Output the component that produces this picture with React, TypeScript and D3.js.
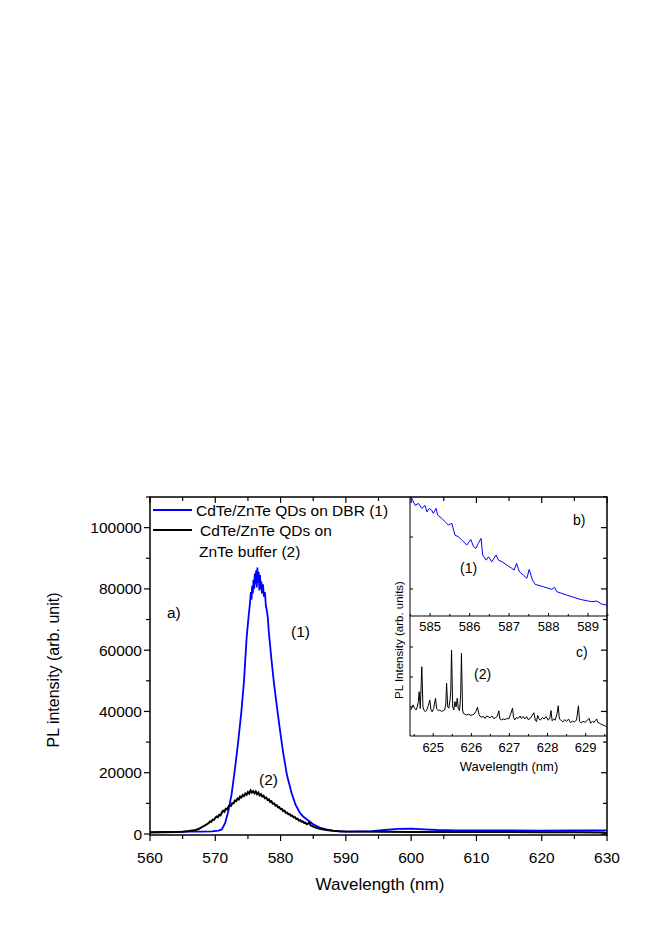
import React from 'react';
import * as d3 from 'd3';

const FONT = "'Liberation Sans', Arial, Helvetica, sans-serif";

// main panel a): CdTe/ZnTe QDs on DBR (1)
const dbrWl = [560, 562, 564, 566, 568, 569.5, 570.5, 571, 571.5, 572, 572.5, 573, 573.5, 574, 574.4, 574.8, 575.1,
  575.3, 575.45, 575.55, 575.65, 575.75, 575.85, 575.95, 576.05, 576.15, 576.25, 576.35, 576.45, 576.55, 576.65,
  576.75, 576.85, 576.95, 577.05, 577.15, 577.3, 577.45, 577.6, 577.75, 577.9, 578.05, 578.2, 578.6, 579, 579.5,
  580, 580.4, 581, 581.7, 582.3, 583, 583.5, 584, 585, 586, 587, 588, 589, 590, 592, 594, 596, 598, 600, 602, 604,
  607, 610, 615, 620, 625, 630];
const dbrPl = [600, 650, 700, 750, 800, 850, 1100, 1500, 3500, 7500, 13000, 21000, 30000, 40000, 50000, 64000, 71000,
  75000, 79000, 76500, 81000, 78500, 83000, 80000, 85000, 81500, 86000, 80500, 87000, 82000, 85500,
  79500, 84500, 80000, 82500, 78500, 81500, 77500, 79000, 74500, 73000, 70500, 66000, 57000, 49000, 40500,
  32500, 26500, 19000, 13300, 9500, 6800, 5600, 4800, 3200, 2100, 1500, 1100, 900, 800, 850, 950, 1300, 1700, 1750,
  1500, 1300, 1200, 1150, 1150, 1100, 1150, 1200];

// main panel a): CdTe/ZnTe QDs on ZnTe buffer (2)
const bufWl = [560, 562, 564, 565, 566, 567, 567.5, 568, 568.5,
  569.0, 569.2, 569.4, 569.6, 569.8, 570.0, 570.2, 570.4, 570.6, 570.8, 571.0, 571.2, 571.4, 571.6, 571.8,
  572.0, 572.2, 572.4, 572.6, 572.8, 573.0, 573.2, 573.4, 573.6, 573.8, 574.0, 574.2, 574.4, 574.6, 574.8,
  575.0, 575.2, 575.4, 575.6, 575.8, 576.0, 576.2, 576.4, 576.6, 576.8, 577.0, 577.2, 577.4, 577.6, 577.8,
  578.0, 578.2, 578.4, 578.6, 578.8, 579.0, 579.2, 579.4, 579.6, 579.8, 580.0, 580.2, 580.4, 580.6, 580.8,
  581.0, 581.2, 581.4, 581.6, 581.8, 582.0, 582.2, 582.4, 582.6, 582.8, 583.0, 583.2, 583.4, 583.6, 583.8,
  584.0, 584.2, 584.4, 584.6, 584.8, 585.0, 585.5, 586, 587, 588, 589, 590, 595, 600, 605, 610, 615, 620,
  625, 629.5, 630];
const bufPl = [500, 550, 650, 750, 950, 1300, 1700, 2300, 2900,
  3600, 4100, 4000, 4700, 4600, 5300, 5700, 5500, 6300, 6100, 7000, 7600, 7300, 8200, 8000,
  8900, 9400, 9200, 10100, 10000, 10900, 10700, 11600, 11300, 12200, 11900, 12700, 12400, 13200, 12800,
  13700, 13200, 14200, 13500, 14000, 13300, 13900, 13000, 13500, 12600, 13000, 12200, 12500, 11700, 11900,
  11100, 11300, 10500, 10700, 9900, 10000, 9300, 9400, 8700, 8800, 8100, 8200, 7500, 7600, 6900,
  7000, 6400, 6500, 5900, 6000, 5400, 5500, 4900, 5000, 4400, 4500, 4000, 4100, 3600, 3700,
  3200, 3400, 3900, 2800, 2700, 2400, 2000, 1700, 1300, 1050, 900, 800, 700, 650, 650, 650, 650, 600,
  550, 500, 200];

// inset b): DBR sample, 584.5 - 589.5 nm
const insetBWl = [584.52, 584.62, 584.7, 584.79, 584.87, 584.92, 584.98, 585.04, 585.08, 585.15, 585.19, 585.3, 585.38,
  585.46, 585.55, 585.63, 585.72, 585.8, 585.93, 586.03, 586.1, 586.16, 586.22, 586.29, 586.33, 586.42, 586.48,
  586.56, 586.67, 586.73, 586.82, 586.94, 587.07, 587.13, 587.19, 587.26, 587.36, 587.45, 587.51, 587.59, 587.66,
  587.87, 588.08, 588.15, 588.21, 588.46, 588.8, 589.09, 589.22, 589.35, 589.47];
const insetBPl = [2768, 2608, 2647, 2551, 2608, 2484, 2551, 2516, 2455, 2551, 2422, 2356, 2292,
  2230, 2262, 2036, 2004, 1942, 1846, 1953, 1812, 1782, 1878, 1974, 1654, 1555, 1619,
  1523, 1654, 1555, 1523, 1462, 1397, 1365, 1494, 1331, 1269, 1205, 1377, 1173, 1089,
  1043, 993, 1031, 947, 883, 800, 755, 768, 709, 690];

// inset c): buffer sample, 624.4 - 629.5 nm
const insetCWl = [624.41, 624.44, 624.47, 624.51, 624.55, 624.58, 624.61, 624.63, 624.66, 624.7, 624.73, 624.76, 624.8,
  624.83, 624.87, 624.91, 624.94, 624.97, 625.01, 625.06, 625.09, 625.13, 625.17, 625.22, 625.26, 625.3, 625.33,
  625.35, 625.38, 625.41, 625.44, 625.46, 625.48, 625.51, 625.54, 625.57, 625.6, 625.63, 625.66, 625.69, 625.72,
  625.74, 625.77, 625.79, 625.83, 625.88, 625.93, 625.98, 626.03, 626.07, 626.12, 626.16, 626.2, 626.23, 626.28,
  626.32, 626.36, 626.4, 626.44, 626.49, 626.54, 626.58, 626.63, 626.68, 626.72, 626.75, 626.79, 626.84, 626.89,
  626.94, 626.98, 627.03, 627.08, 627.11, 627.14, 627.18, 627.23, 627.28, 627.31, 627.36, 627.4, 627.45, 627.49,
  627.54, 627.6, 627.64, 627.68, 627.71, 627.74, 627.77, 627.81, 627.86, 627.91, 627.96, 628.02, 628.06, 628.09,
  628.12, 628.16, 628.2, 628.25, 628.28, 628.31, 628.35, 628.4, 628.45, 628.5, 628.55, 628.6, 628.66, 628.7,
  628.76, 628.81, 628.84, 628.88, 628.93, 628.98, 629.03, 629.09, 629.13, 629.18, 629.22, 629.26, 629.29, 629.32,
  629.36, 629.4, 629.45, 629.5, 629.55];
const insetCPl = [900, 1000, 1070, 960, 900, 1000, 1180, 1510, 950, 2340, 1000, 880, 850,
  900, 1050, 1230, 900, 840, 950, 1290, 930, 880, 900, 850, 880, 900, 1100,
  1790, 1000, 960, 1230, 1500, 2900, 1000, 900, 1180, 1000, 1290, 940, 880, 1400,
  2790, 900, 790, 760, 730, 760, 720, 740, 760, 850, 990, 760, 680, 660,
  690, 620, 700, 680, 640, 700, 620, 640, 690, 870, 600, 570, 600, 580,
  620, 600, 760, 960, 640, 570, 650, 620, 700, 620, 680, 600, 680, 580,
  610, 720, 810, 560, 510, 720, 620, 560, 650, 600, 680, 560, 640, 880,
  540, 600, 560, 780, 1040, 600, 560, 500, 580, 520, 600, 480, 530, 500,
  560, 1040, 520, 470, 520, 490, 540, 620, 460, 520, 480, 560, 600, 480,
  460, 430, 400, 380, 330];

const mainXTicks = [560, 570, 580, 590, 600, 610, 620, 630];
const mainYTicks = [0, 20000, 40000, 60000, 80000, 100000];
const insetBXTicks = [585, 586, 587, 588, 589];
const insetCXTicks = [625, 626, 627, 628, 629];
const insetBYTicks = [1000, 2000];
const insetCYTicks = [1000, 2000, 3000];

export default function App() {
  const x = d3.scaleLinear().domain([560, 630]).range([150, 607]);
  const y = d3.scaleLinear().domain([0, 110000]).range([834, 497]);
  const xb = d3.scaleLinear().domain([584.49, 589.48]).range([410, 607]);
  const yb = d3.scaleLinear().domain([480, 2770]).range([616, 497]);
  const xc = d3.scaleLinear().domain([624.39, 629.56]).range([410, 607]);
  const yc = d3.scaleLinear().domain([33, 4033]).range([736, 616]);

  const [x0, x1] = x.range();
  const [yBot, yTop] = y.range();

  const mkLine = (wl: number[], sx: any, sy: any) =>
    d3.line<number>().x((_, i) => sx(wl[i])).y(d => sy(d));

  const minorX = d3.range(560, 631, 5);
  const minorY = d3.range(0, 110001, 10000);
  const bMinor = d3.range(584.5, 589.6, 0.5);
  const cMinor = d3.range(624.5, 629.6, 0.5);

  return (
    <svg width={664} height={940} style={{ position: 'absolute', left: 0, top: 0, background: '#fff' }}
      fontFamily={FONT}>
      <defs>
        <clipPath id="clipMain"><rect x={x0} y={yTop} width={x1 - x0} height={yBot - yTop + 1} /></clipPath>
        <clipPath id="clipB"><rect x={410} y={yb.range()[1]} width={197} height={yb.range()[0] - yb.range()[1]} /></clipPath>
        <clipPath id="clipC"><rect x={410} y={yc.range()[1]} width={197} height={yc.range()[0] - yc.range()[1]} /></clipPath>
      </defs>

      {/* main curves */}
      <g clipPath="url(#clipMain)">
        <path d={mkLine(dbrWl, x, y)(dbrPl) || ''} fill="none" stroke="#0000ff" strokeWidth={1.8} />
        <path d={mkLine(bufWl, x, y)(bufPl) || ''} fill="none" stroke="#000" strokeWidth={2} />
      </g>

      {/* main frame */}
      <rect x={x0} y={yTop} width={x1 - x0} height={yBot - yTop + 1} fill="none" stroke="#000" strokeWidth={1.5} />

      {/* bottom + top ticks */}
      {minorX.map(v => {
        const major = v % 10 === 0;
        return (
          <g key={'xt' + v}>
            <line x1={x(v)} x2={x(v)} y1={yBot + 1} y2={yBot + 1 + (major ? 6 : 4)} stroke="#000" strokeWidth={1.2} />
            <line x1={x(v)} x2={x(v)} y1={yTop} y2={yTop + (major ? 6 : 4)} stroke="#000" strokeWidth={1.2} />
          </g>
        );
      })}
      {mainXTicks.map(v => (
        <text key={'xl' + v} x={x(v)} y={863} fontSize={15.5} textAnchor="middle">{v}</text>
      ))}

      {/* left + right ticks */}
      {minorY.map(v => {
        const major = v % 20000 === 0;
        return (
          <g key={'yt' + v}>
            <line x1={x0 - (major ? 6 : 4)} x2={x0} y1={y(v)} y2={y(v)} stroke="#000" strokeWidth={1.2} />
            <line x1={x1 - (major ? 6 : 4)} x2={x1} y1={y(v)} y2={y(v)} stroke="#000" strokeWidth={1.2} />
          </g>
        );
      })}
      {mainYTicks.map(v => (
        <text key={'yl' + v} x={142} y={y(v) + 5.5} fontSize={15.5} textAnchor="end">{v}</text>
      ))}

      <text x={380} y={890} fontSize={17} textAnchor="middle">Wavelength (nm)</text>
      <text transform={`translate(59,670) rotate(-90)`} fontSize={16} textAnchor="middle">PL intensity (arb. unit)</text>

      {/* legend */}
      <line x1={153} x2={192} y1={510} y2={510} stroke="#0000ff" strokeWidth={2} />
      <text x={196} y={516} fontSize={15.5}>CdTe/ZnTe QDs on DBR (1)</text>
      <line x1={153} x2={192} y1={530} y2={530} stroke="#000" strokeWidth={2} />
      <text x={200} y={536} fontSize={15.5}>CdTe/ZnTe QDs on</text>
      <text x={199} y={557} fontSize={15.5}>ZnTe buffer (2)</text>

      <text x={167} y={618} fontSize={15.5}>a)</text>
      <text x={291} y={637} fontSize={15.5}>(1)</text>
      <text x={259} y={785} fontSize={15.5}>(2)</text>

      {/* inset */}
      <g clipPath="url(#clipB)">
        <path d={mkLine(insetBWl, xb, yb)(insetBPl) || ''} fill="none" stroke="#0000ff" strokeWidth={1} />
      </g>
      <g clipPath="url(#clipC)">
        <path d={mkLine(insetCWl, xc, yc)(insetCPl) || ''} fill="none" stroke="#000" strokeWidth={1} />
      </g>
      <line x1={410} x2={410} y1={yTop} y2={yc.range()[0]} stroke="#000" strokeWidth={1} />
      <line x1={410} x2={607} y1={yb.range()[0]} y2={yb.range()[0]} stroke="#000" strokeWidth={1} />
      <line x1={410} x2={607} y1={yc.range()[0]} y2={yc.range()[0]} stroke="#000" strokeWidth={1} />

      {bMinor.map(v => (
        <line key={'bt' + v} x1={xb(v)} x2={xb(v)} y1={yb.range()[0]} y2={yb.range()[0] - (Number.isInteger(v) ? 3 : 2)}
          stroke="#000" strokeWidth={1} />
      ))}
      {cMinor.map(v => (
        <line key={'ct' + v} x1={xc(v)} x2={xc(v)} y1={yc.range()[0]} y2={yc.range()[0] - (Number.isInteger(v) ? 3 : 2)}
          stroke="#000" strokeWidth={1} />
      ))}
      {insetBYTicks.map(v => (
        <line key={'byt' + v} x1={410} x2={413} y1={yb(v)} y2={yb(v)} stroke="#000" strokeWidth={1} />
      ))}
      {insetCYTicks.map(v => (
        <line key={'cyt' + v} x1={410} x2={413} y1={yc(v)} y2={yc(v)} stroke="#000" strokeWidth={1} />
      ))}
      {insetBXTicks.map(v => (
        <text key={'bl' + v} x={xb(v)} y={631} fontSize={13} textAnchor="middle">{v}</text>
      ))}
      {insetCXTicks.map(v => (
        <text key={'cl' + v} x={xc(v)} y={752} fontSize={13} textAnchor="middle">{v}</text>
      ))}
      <text x={509} y={771} fontSize={13} textAnchor="middle">Wavelength (nm)</text>
      <text transform={`translate(403,640) rotate(-90)`} fontSize={11.5} textAnchor="middle">PL Intensity (arb. units)</text>
      <text x={573} y={525} fontSize={14}>b)</text>
      <text x={576} y={657} fontSize={14}>c)</text>
      <text x={460} y={573} fontSize={14}>(1)</text>
      <text x={474} y={679} fontSize={14}>(2)</text>
    </svg>
  );
}
